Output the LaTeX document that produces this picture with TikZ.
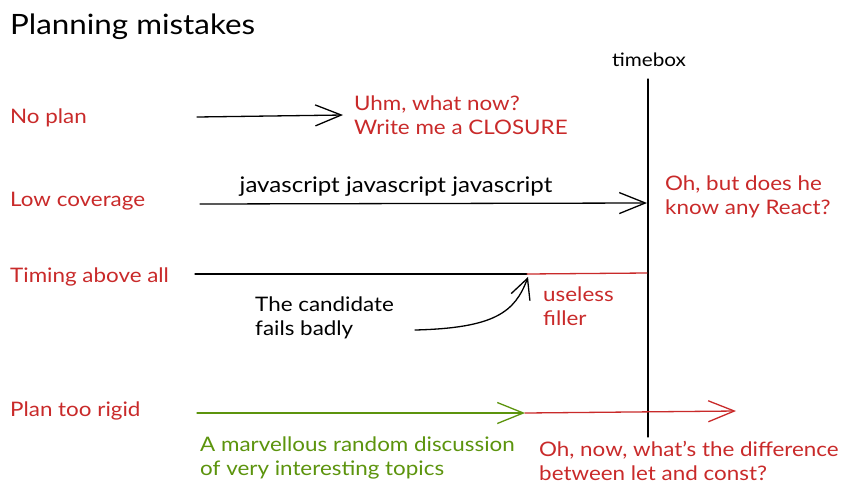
\documentclass[tikz,border=0pt]{standalone}
\usepackage{fontspec}
\setmainfont{Lato}[FakeStretch=1.12]
\usetikzlibrary{arrows.meta}
\definecolor{exred}{HTML}{C92A2A}
\definecolor{exgreen}{HTML}{5C940D}
\begin{document}
\begin{tikzpicture}[x=1pt,y=-1pt,
  txt/.style={anchor=west, inner sep=0pt, align=left, font=\fontsize{20}{24.5}\selectfont},
  redtxt/.style={txt, text=exred},
  greentxt/.style={txt, text=exgreen},
  stroke/.style={line width=1.3pt, line cap=round},
  barb/.style={-{Straight Barb[length=26pt,width=21pt,line width=1.3pt]}}
]
\useasboundingbox[fill=white] (0,0) rectangle (856,496);

% title
\node[txt, font=\fontsize{28}{32}\selectfont] (title) at (10,27) {Planning mistakes};

% row labels
\node[redtxt] (noplan) at (10,118) {No plan};
\node[redtxt] (lowcov) at (10,201) {Low coverage};
\node[redtxt] (timing) at (10,277) {Timing above all};
\node[redtxt] (rigid) at (10,411) {Plan too rigid};

% timebox
\node[txt, anchor=center, font=\fontsize{18.5}{20}\selectfont] (timebox) at (649,60) {timebox};
\coordinate (tbtop) at (648,79);
\coordinate (tbbot) at (648,437);
\draw[stroke] (tbtop) -- (tbbot);

% no plan
\coordinate (np1) at (197,117);
\coordinate (np2) at (343,115);
\draw[stroke, barb] (np1) -- (np2);
\node[redtxt] (uhm) at (354,115) {Uhm, what now?\\Write me a CLOSURE};

% low coverage
\node[txt, anchor=center, font=\fontsize{21.5}{24}\selectfont] (js) at (396,187) {javascript javascript javascript};
\coordinate (lc1) at (200,204);
\coordinate (lc2) at (647,203);
\draw[stroke, barb] (lc1) -- (lc2);
\node[redtxt] (react) at (665,197) {Oh, but does he\\know any React?};

% timing above all
\coordinate (ta1) at (195,274);
\coordinate (ta2) at (527,274);
\coordinate (ta3) at (647,273);
\draw[stroke] (ta1) -- (ta2);
\draw[stroke, exred] (ta2) -- (ta3);
\node[txt] (cand) at (255,318) {The candidate\\fails badly};
\coordinate (cv1) at (415,330);
\coordinate (cv2) at (528,277);
\draw[stroke, -{Straight Barb[length=20pt,width=20pt,line width=1.3pt]}] (cv1) .. controls (495,328) and (515,312) .. (cv2);
\node[redtxt] (useless) at (543,306) {useless\\filler};

% plan too rigid
\coordinate (pr1) at (197,413);
\coordinate (pr2) at (525,413);
\coordinate (pr3) at (736,411);
\draw[stroke, exgreen, barb] (pr1) -- (pr2);
\draw[stroke, exred, barb] (pr2) -- (pr3);
\node[greentxt] (marv) at (200,458) {A marvellous random discussion\\of very interesting topics};
\node[redtxt] (diff) at (539,461) {Oh, now, what's the difference\\between let and const?};
\end{tikzpicture}
\end{document}
